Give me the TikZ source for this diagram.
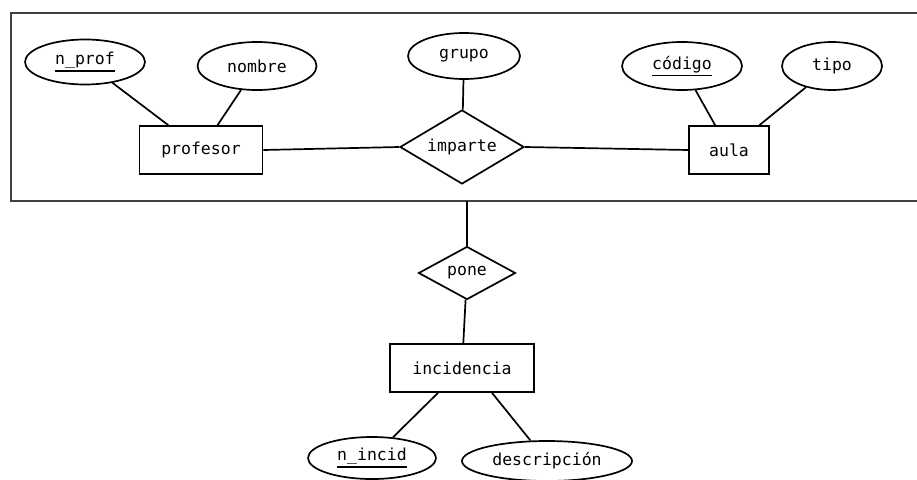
\documentclass[tikz,border=0pt]{standalone}
\usepackage{fontspec}
\setmonofont{DejaVu Sans Mono}
\usetikzlibrary{shapes.geometric}
\newcommand\keyattr[1]{\setbox0\hbox{#1}\rlap{\rule[-7pt]{\wd0}{1.5pt}}\box0}
\begin{document}
\begin{tikzpicture}[x=1pt,y=-1pt,
  every node/.style={font=\ttfamily\fontsize{16.5}{18}\selectfont, text=black},
  attr/.style n args={2}{ellipse, draw, line width=1.7pt, inner sep=0pt, minimum width=#1, minimum height=#2},
  entity/.style n args={2}{rectangle, draw, line width=1.7pt, inner sep=0pt, minimum width=#1, minimum height=#2},
  rel/.style n args={2}{diamond, draw, line width=1.7pt, inner sep=0pt, aspect=1.6, minimum width=#1, minimum height=#2},
  conn/.style={line width=1.7pt},
  frame/.style={line width=2.2pt, draw=black!75}]
\useasboundingbox (0,0) rectangle (917,479);
% aggregation frame (open on the right, cut by the picture edge)
\draw[frame] (920,13) -- (11,13) -- (11,201) -- (920,201);
\coordinate (fb) at (467,201);
% entities
\node[entity={123pt}{48pt}] (profesor) at (201,150) {profesor};
\node[entity={80pt}{48pt}] (aula) at (729,150) {aula};
\node[entity={144pt}{48pt}] (incid) at (462,368) {incidencia};
% relationships
\node[rel={124pt}{74pt}] (imparte) at (462,147) {imparte};
\node[rel={97pt}{53pt}] (pone) at (467,273) {pone};
% attributes
\node[attr={120pt}{45pt}] (nprof) at (85,62) {\keyattr{n\_prof}};
\node[attr={119pt}{48pt}] (nombre) at (257,66) {nombre};
\node[attr={112pt}{46pt}] (grupo) at (464,56) {grupo};
\node[attr={120pt}{48pt}] (codigo) at (682,66) {\keyattr{código}};
\node[attr={100pt}{48pt}] (tipo) at (832,66) {tipo};
\node[attr={128pt}{42pt}] (nincid) at (372,458) {\keyattr{n\_incid}};
\node[attr={170pt}{40pt}] (descr) at (547,461) {descripción};
% connectors
\draw[conn] (nprof) -- (profesor);
\draw[conn] (nombre) -- (profesor);
\draw[conn] (profesor.east) -- (imparte.west);
\draw[conn] (grupo) -- (imparte);
\draw[conn] (imparte.east) -- (aula.west);
\draw[conn] (codigo) -- (aula);
\draw[conn] (tipo) -- (aula);
\draw[conn] (fb) -- (pone);
\draw[conn] (pone) -- (incid);
\draw[conn] ([xshift=-24pt]incid.south) -- (nincid);
\draw[conn] ([xshift=30pt]incid.south) -- (descr);
\end{tikzpicture}
\end{document}
